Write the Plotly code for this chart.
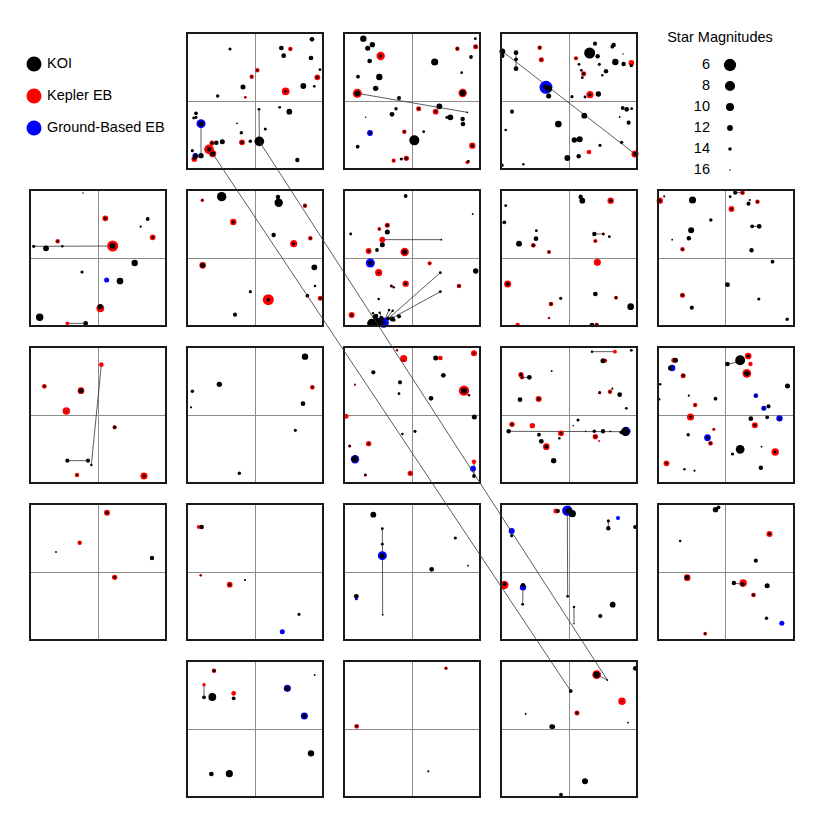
import plotly.graph_objects as go

# Each star: (x, y, magnitude); panel scale runs 0..408 with the centre cross at 204
koi_0_1 = [(375,19,13),(283,45,13),(129,48,14.5),(290,68,13),(372,75,13),(399,110,14.8),(168,162,12.7),(349,159,12),(382,160,14.8),(92,189,14.2),(278,223,14.8),(307,236,12),(216,229,14.8),(150,271,15.7),(235,288,14.5),(163,299,14.2),(190,325,14.2),(217,325,8.4),(27,241,13.9),(27,253,14.5),(20,255,14.8),(42,272,12.7),(106,326,12.7),(88,329,13.3),(75,330,14.5),(66,349,13.3),(77,362,12.7),(16,353,14.5),(42,368,12.4),(25,369,13.3),(22,376,14.2),(165,328,14.5),(331,381,13.3),(310,48,15.4),(211,112,15.4),(194,131,15.4),(175,193,16),(296,175,14.8),(391,133,14.5)]
keb_0_1 = [(310,48,13.3),(211,112,13.3),(194,131,13.3),(175,193,14.8),(296,175,10.2),(391,133,12),(165,328,12),(75,330,12.7),(66,349,8.4),(77,362,10.8),(22,378,12)]
gb_0_1 = [(42,272,9),(25,369,12)]
link_0_1 = [(42,272,42,368),(216,229,217,325)]

koi_0_2 = [(58,17,11.5),(85,35,12.4),(71,46,12.7),(77,84,13),(110,69,14.2),(272,87,10.8),(394,17,14.8),(340,47,14.8),(395,41,14.8),(381,72,13.9),(353,119,14.8),(42,131,13.9),(106,132,11.5),(95,166,12.4),(40,181,12),(356,180,11.8),(165,195,13.6),(156,227,14.2),(144,244,13),(65,253,16),(286,220,12),(370,238,15.7),(224,227,14.8),(275,236,14.8),(319,253,12),(309,253,14.5),(356,258,13.3),(357,273,13),(78,300,14.8),(181,296,15.1),(239,296,14.8),(211,322,8.1),(41,341,13.9),(385,338,14.5),(172,378,14.5),(187,376,14.5),(149,383,15.7),(373,385,14.8)]
keb_0_2 = [(110,69,9.6),(340,47,13.3),(395,41,12.7),(40,181,9),(356,180,9.6),(224,227,12.7),(275,236,12),(181,296,13.3),(385,338,11.5),(187,376,12.4),(149,383,13.6),(370,388,13.9)]
gb_0_2 = [(78,300,12)]
link_0_2 = [(40,181,370,238)]

koi_0_3 = [(4,55,12),(4,68,13.3),(45,59,13),(45,79,13.9),(45,107,13),(116,44,14.8),(121,80,15.1),(132,161,13.3),(143,167,11.5),(143,189,12.7),(282,32,13.6),(266,60,7.2),(290,70,13.3),(338,36,13.3),(334,41,13.9),(225,76,15.4),(366,63,16),(234,94,14.8),(295,94,14.5),(343,87,11.5),(368,93,13.3),(391,98,14.5),(241,112,14.8),(248,122,14.5),(244,134,14.8),(315,115,13.3),(304,127,15.1),(267,185,14.5),(292,183,12.4),(252,192,14.8),(213,191,14.5),(33,236,13.6),(250,248,12),(365,225,13.9),(377,229,13),(392,227,14.8),(356,252,15.7),(383,269,13.6),(172,273,11.2),(14,291,15.1),(220,321,12.4),(236,319,11.8),(297,337,14.5),(362,328,14.5),(402,363,13.9),(199,375,12),(233,370,13.3),(3,397,14.2),(67,394,15.1)]
keb_0_3 = [(116,44,13.3),(121,80,12.7),(225,76,13.6),(391,90,12),(248,122,12.7),(267,185,10.8),(402,363,10.8),(264,357,13),(362,328,14.8)]
gb_0_3 = [(135,163,5.4)]
link_0_3 = [(4,55,402,363),(45,59,45,107),(391,90,391,98)]

koi_1_0 = [(159,9,16),(226,85,14.8),(353,87,13.9),(332,110,15.4),(368,142,14.8),(83,154,15.1),(11,169,14.5),(48,175,12),(97,169,15.1),(248,168,12),(314,219,11.5),(156,246,14.5),(270,273,11.2),(211,350,12.4),(29,382,10.5),(167,400,13)]
keb_1_0 = [(226,85,12),(368,142,12),(83,154,13.3),(248,168,7.2),(211,355,10.2),(112,400,13.9)]
gb_1_0 = [(230,270,12.7)]
link_1_0 = [(11,169,248,168),(112,400,167,400)]

koi_1_1 = [(46,31,15.4),(104,20,8.7),(273,21,13.3),(275,38,9.6),(354,47,14.8),(139,96,14.5),(260,135,13.3),(320,161,14.5),(370,145,15.1),(47,226,12.7),(382,232,12),(384,288,15.1),(190,305,14.5),(244,329,14.2),(361,317,13.9),(400,325,15.1),(144,374,13.6)]
keb_1_1 = [(46,31,14.2),(354,47,13.3),(139,96,11.5),(320,161,10.8),(370,145,13.3),(47,226,11.2),(244,329,7.2),(400,325,12.7)]
gb_1_1 = []
link_1_1 = []

koi_1_2 = [(185,18,13.9),(386,72,15.7),(20,132,14.8),(130,106,14.5),(106,117,15.7),(130,126,12.7),(115,164,12.7),(74,183,15.1),(99,180,13.9),(182,186,12.7),(79,219,13.3),(104,248,15.1),(257,220,15.7),(395,243,12.4),(289,248,14.8),(185,281,14.5),(142,288,15.1),(149,292,15.1),(345,288,15.1),(289,305,14.8),(104,327,15.1),(292,149,15.7),(23,375,14.5),(87,370,15.1),(90,380,14.5),(82,395,12),(94,390,12.7),(107,368,15.1),(102,390,13.3),(135,360,15.1),(146,362,15.1),(145,387,12.7),(165,379,13.6),(132,385,13.9),(150,390,14.5),(88,400,12.7),(100,402,12.7),(110,395,13),(119,398,14.5),(80,400,11),(92,398,11),(104,398,11),(96,378,13),(112,385,13)]
keb_1_2 = [(115,149,12),(130,106,12.7),(106,117,13.9),(74,183,12),(182,186,9.6),(104,248,10.8),(257,220,13.6),(185,281,11.5),(345,288,13),(23,375,11.8),(142,288,14.8)]
gb_1_2 = [(79,219,9),(119,398,7.8)]
link_1_2 = [(115,149,292,149),(119,398,289,248),(119,398,289,305),(119,398,135,360),(119,398,146,362),(119,398,107,368)]

koi_1_3 = [(14,47,14.8),(10,97,13.9),(106,122,14.8),(105,146,13),(54,161,12),(97,166,14.5),(144,186,15.1),(239,21,13.3),(244,32,12),(329,32,14.2),(280,132,13.3),(307,132,15.1),(325,140,14.8),(283,153,15.4),(289,217,16),(20,282,13.9),(179,325,14.5),(150,342,14.8),(144,384,16),(283,312,13),(345,323,14.8),(389,350,11.2),(273,405,13),(287,405,14.8)]
keb_1_3 = [(97,166,13),(144,186,13.6),(329,32,11.5),(283,153,13.6),(289,217,10.8),(20,282,10.8),(150,342,13),(144,384,15.1),(345,323,13.9),(50,405,13.3),(287,405,13.3),(239,18,14.8),(307,132,14.8)]
gb_1_3 = []
link_1_3 = [(280,132,307,132)]

koi_1_4 = [(7,32,14.5),(20,19,15.4),(105,30,10.8),(233,8,13.6),(255,8,15.1),(218,20,14.8),(277,30,15.4),(273,41,13.6),(300,35,15.1),(222,57,15.1),(160,90,14.2),(284,109,13.9),(305,109,13),(101,121,11.8),(94,145,13.3),(44,149,15.7),(75,178,14.8),(282,181,13.3),(345,215,13.9),(210,284,13),(75,316,14.8),(304,327,14.5),(103,353,13.6),(389,388,14.2)]
keb_1_4 = [(7,32,11.5),(255,8,13),(300,35,13.3),(222,57,12),(75,178,13.3),(75,316,12.7)]
gb_1_4 = []
link_1_4 = [(233,8,255,8),(284,109,305,109)]

koi_2_0 = [(43,118,15.1),(153,131,12.7),(109,195,16),(254,241,14.2),(112,341,13.6),(174,341,13.6),(184,354,15.1),(141,384,15.4),(342,387,14.5)]
keb_2_0 = [(214,53,13),(43,118,13),(153,131,11.2),(109,192,10.5),(254,241,13.6),(141,384,13.3),(342,387,10.8)]
gb_2_0 = []
link_2_0 = [(214,53,184,354),(112,341,174,341)]

koi_2_1 = [(354,29,11.5),(97,112,12.4),(16,133,14.2),(12,181,15.4),(376,121,15.1),(348,170,13),(325,250,14.5),(157,379,14.2)]
keb_2_1 = [(376,121,13)]
gb_2_1 = []
link_2_1 = []

koi_2_2 = [(159,10,16),(275,33,12.7),(390,19,15.4),(88,76,13.6),(298,85,13),(168,106,13.6),(33,113,16),(165,140,14.8),(360,131,11.8),(375,145,15.1),(261,154,13),(391,210,12.7),(175,261,15.1),(213,253,14.5),(17,297,15.1),(74,290,15.1),(34,332,13.3),(32,337,12),(64,384,15.1),(199,379,15.4),(390,387,13.9),(179,40,16)]
keb_2_2 = [(159,10,15.1),(179,35,10.8),(289,33,13),(390,19,11.8),(33,113,15.4),(360,131,7.8),(6,208,12.7),(261,154,13.9),(17,297,14.5),(74,290,12.4),(64,384,14.5),(199,379,12.4),(390,344,13.3)]
gb_2_2 = [(33,337,9.6),(387,365,12)]
link_2_2 = [(390,344,390,387)]

koi_2_3 = [(273,14,15.1),(391,10,14.8),(306,41,12.7),(152,72,15.7),(60,83,14.5),(63,91,15.1),(85,91,13),(57,158,13),(113,156,14.2),(296,137,14.8),(327,134,15.1),(334,125,15.4),(356,143,13),(376,184,14.8),(231,219,14.5),(217,236,16),(33,232,14.8),(23,253,13.3),(114,263,13.9),(180,259,15.1),(175,274,15.1),(121,283,13),(136,299,13.9),(158,341,12.4),(280,253,14.2),(306,253,13.3),(328,253,15.7),(254,253,16),(283,269,14.8),(373,254,9.6),(361,256,13.9)]
keb_2_3 = [(342,14,13.9),(313,41,13.9),(60,83,12.4),(63,91,13.3),(113,156,11.8),(296,137,14.5),(327,134,13.3),(33,232,12.4),(94,236,12.4),(180,259,12),(136,299,11.2),(283,269,12.4),(294,282,15.4)]
gb_2_3 = [(375,253,9)]
link_2_3 = [(273,14,342,14),(63,91,85,91),(23,253,373,254)]

koi_2_4 = [(54,40,12.7),(39,63,12.7),(77,86,14.5),(8,112,15.1),(94,146,15.4),(5,157,15.1),(174,155,13.9),(113,174,15.4),(99,210,14.8),(169,247,16),(92,263,14.2),(150,272,14.5),(159,289,14.8),(27,349,15.1),(81,367,15.1),(111,371,15.4),(248,40,8.2),(210,51,13),(272,27,14.5),(268,79,12.4),(390,117,12.7),(295,146,15.4),(319,184,15.4),(333,178,13.6),(280,215,13),(329,211,13.9),(366,214,14.8),(292,235,14.8),(248,307,9.3),(225,321,14.5),(312,299,15.7),(353,315,14.8),(310,362,13.3)]
keb_2_4 = [(49,40,12.7),(77,86,12.7),(113,174,13.3),(99,210,10.8),(169,247,14.5),(159,289,13),(27,349,12),(272,27,11.2),(279,51,13.3),(268,79,9.3),(292,235,11.8),(353,315,10.5)]
gb_2_4 = [(44,63,11.5),(295,146,13),(319,184,12.7),(366,214,11.5),(150,272,11.2)]
link_2_4 = [(210,51,248,44)]

koi_3_0 = [(231,26,14.5),(149,116,16),(78,144,15.7),(366,162,13.3),(254,220,14.8)]
keb_3_0 = [(231,26,11.8),(149,116,13.3),(254,220,12.4)]
gb_3_0 = []
link_3_0 = []

koi_3_1 = [(44,69,13.3),(128,242,14.5),(174,228,15.4),(336,331,14.5),(41,214,16)]
keb_3_1 = [(35,69,13.9),(41,214,14.8),(128,242,12)]
gb_3_1 = [(286,383,12.7)]
link_3_1 = []

koi_3_2 = [(88,32,12),(115,74,14.8),(115,120,14.5),(115,155,12.7),(116,332,15.7),(334,102,14.5),(263,196,13),(372,185,15.7),(37,277,13)]
keb_3_2 = []
gb_3_2 = [(115,155,9),(37,284,14.5)]
link_3_2 = [(115,74,116,332)]

koi_3_3 = [(171,21,13.9),(200,22,12.7),(206,17,13.3),(214,29,10.8),(322,51,14.8),(322,73,13.3),(402,69,13.9),(32,95,14.5),(11,240,13.9),(66,244,13),(65,301,14.8),(200,277,14.8),(219,309,15.1),(219,359,16),(335,302,12),(298,336,13.6)]
keb_3_3 = [(165,21,12.7),(10,243,9.6),(322,51,14.5)]
gb_3_3 = [(199,20,7.8),(351,42,13.6),(32,81,11.8),(66,250,11.5)]
link_3_3 = [(322,51,322,73),(66,250,65,301),(199,20,200,277),(219,309,219,359)]

koi_3_4 = [(183,10,13.9),(174,17,12.4),(68,111,15.1),(336,90,14.8),(295,170,13.6),(89,221,13),(229,237,13.3),(255,241,13.3),(329,245,12.7),(288,273,14.8),(327,343,14.2),(143,389,15.1)]
keb_3_4 = [(336,90,11.8),(89,221,11.2),(257,237,10.5),(288,273,13),(143,389,13.9)]
gb_3_4 = [(373,358,12.7)]
link_3_4 = [(229,237,255,241)]

koi_4_1 = [(81,29,14.5),(383,42,15.7),(51,109,13.9),(76,108,10.2),(140,112,13.9),(301,82,12.4),(352,165,13),(372,277,11.5),(73,339,13),(127,338,10.8)]
keb_4_1 = [(81,29,13.3),(51,71,14.2),(140,97,13)]
gb_4_1 = [(301,82,10.8),(352,165,10.8)]
link_4_1 = [(51,71,51,109)]

koi_4_2 = [(306,22,15.4),(38,196,15.1),(253,331,15.4)]
keb_4_2 = [(306,22,14.2),(38,196,13)]
gb_4_2 = []
link_4_2 = []

koi_4_3 = [(403,22,13),(209,90,13.9),(319,57,15.7),(287,41,11.5),(228,156,14.8),(363,121,16),(74,159,15.7),(381,185,15.7),(152,197,13),(156,197,13.3),(252,361,11.8),(180,401,13.9)]
keb_4_3 = [(287,41,9.3),(363,121,10.5),(228,156,12.7)]
gb_4_3 = []
link_4_3 = [(287,41,319,57)]

# lines that join stars across panels, in whole-figure units
cross_x0 = [212.7, 259.3]
cross_y0 = [153.7, 141.3]
cross_x1 = [570.7, 607.3]
cross_y1 = [691.0, 680.0]

class_names = ["KOI", "Kepler EB", "Ground-Based EB"]
class_colors = ["#000000", "#ff0000", "#0000ff"]
mag_labels = [6, 8, 10, 12, 14, 16]
legend_title = "Star Magnitudes"

panels = {
    (0,1):(koi_0_1,keb_0_1,gb_0_1,link_0_1),(0,2):(koi_0_2,keb_0_2,gb_0_2,link_0_2),(0,3):(koi_0_3,keb_0_3,gb_0_3,link_0_3),
    (1,0):(koi_1_0,keb_1_0,gb_1_0,link_1_0),(1,1):(koi_1_1,keb_1_1,gb_1_1,link_1_1),(1,2):(koi_1_2,keb_1_2,gb_1_2,link_1_2),(1,3):(koi_1_3,keb_1_3,gb_1_3,link_1_3),(1,4):(koi_1_4,keb_1_4,gb_1_4,link_1_4),
    (2,0):(koi_2_0,keb_2_0,gb_2_0,link_2_0),(2,1):(koi_2_1,keb_2_1,gb_2_1,link_2_1),(2,2):(koi_2_2,keb_2_2,gb_2_2,link_2_2),(2,3):(koi_2_3,keb_2_3,gb_2_3,link_2_3),(2,4):(koi_2_4,keb_2_4,gb_2_4,link_2_4),
    (3,0):(koi_3_0,keb_3_0,gb_3_0,link_3_0),(3,1):(koi_3_1,keb_3_1,gb_3_1,link_3_1),(3,2):(koi_3_2,keb_3_2,gb_3_2,link_3_2),(3,3):(koi_3_3,keb_3_3,gb_3_3,link_3_3),(3,4):(koi_3_4,keb_3_4,gb_3_4,link_3_4),
    (4,1):(koi_4_1,keb_4_1,gb_4_1,link_4_1),(4,2):(koi_4_2,keb_4_2,gb_4_2,link_4_2),(4,3):(koi_4_3,keb_4_3,gb_4_3,link_4_3),
}

W = 830
col_left = [30, 187, 344, 501, 657.5]
row_top = [33, 190, 347, 504, 661]
SIDE = 136
INSET = 1
FONT = "Liberation Sans"


def dia(mag):
    return max(1.2, 12.3 - 1.08 * (mag - 6))


fig = go.Figure()
layout = dict(
    width=W, height=W, margin=dict(l=0, r=0, t=0, b=0), showlegend=False,
    paper_bgcolor="white", plot_bgcolor="rgba(0,0,0,0)", hovermode=False,
)

n = 1
for (r, c), (koi, keb, gb, links) in panels.items():
    xn, yn = ("x%d" % n, "y%d" % n)
    ax = dict(tickvals=[204], ticks="", showticklabels=False, showgrid=True,
              gridcolor="#8c8c8c", gridwidth=1, zeroline=False, showline=True, mirror=True,
              linecolor="#1a1a1a", linewidth=2, fixedrange=True)
    L, T = col_left[c] + INSET, row_top[r] + INSET
    S = SIDE - 2 * INSET
    layout["xaxis%d" % n] = dict(ax, anchor=yn, range=[3, 405], domain=[L / W, (L + S) / W])
    layout["yaxis%d" % n] = dict(ax, anchor=xn, range=[405, 3], domain=[1 - (T + S) / W, 1 - T / W])
    lx, ly = [], []
    for a, b, e, d in links:
        lx += [a, e, None]
        ly += [b, d, None]
    if lx:
        fig.add_trace(go.Scatter(x=lx, y=ly, xaxis=xn, yaxis=yn, mode="lines",
                                 line=dict(color="#333333", width=0.8)))
    for stars, col in ((gb, class_colors[2]), (keb, class_colors[1]), (koi, class_colors[0])):
        if stars:
            fig.add_trace(go.Scatter(x=[s[0] for s in stars], y=[s[1] for s in stars], xaxis=xn, yaxis=yn,
                                     mode="markers", cliponaxis=False,
                                     marker=dict(color=col, opacity=1, size=[dia(s[2]) for s in stars],
                                                 line=dict(width=0))))
    n += 1

# whole-figure layer for the long joins and the two keys
xn, yn = "x%d" % n, "y%d" % n
hidden = dict(visible=False, fixedrange=True, domain=[0, 1])
layout["xaxis%d" % n] = dict(hidden, range=[0, W], anchor=yn)
layout["yaxis%d" % n] = dict(hidden, range=[W, 0], anchor=xn)
lx, ly = [], []
for a, b, e, d in zip(cross_x0, cross_y0, cross_x1, cross_y1):
    lx += [a, e, None]
    ly += [b, d, None]
fig.add_trace(go.Scatter(x=lx, y=ly, xaxis=xn, yaxis=yn, mode="lines", line=dict(color="#333333", width=0.8)))

class_y = [64, 96, 128]
fig.add_trace(go.Scatter(x=[34] * 3, y=class_y, xaxis=xn, yaxis=yn, mode="markers",
                         marker=dict(color=class_colors, opacity=1, size=15, line=dict(width=0))))
fig.add_trace(go.Scatter(x=[47] * 3, y=class_y, xaxis=xn, yaxis=yn, mode="text",
                         text=class_names, textposition="middle right",
                         textfont=dict(family=FONT, size=14.5, color="#000000")))
mag_y = [65, 86, 107, 128, 149, 170]
fig.add_trace(go.Scatter(x=[730] * 6, y=mag_y, xaxis=xn, yaxis=yn, mode="markers",
                         marker=dict(color="#000000", opacity=1, size=[dia(m) for m in mag_labels], line=dict(width=0))))
fig.add_trace(go.Scatter(x=[710] * 6, y=mag_y, xaxis=xn, yaxis=yn, mode="text",
                         text=[str(m) for m in mag_labels], textposition="middle left",
                         textfont=dict(family=FONT, size=14.5, color="#000000")))
fig.add_trace(go.Scatter(x=[720], y=[38], xaxis=xn, yaxis=yn, mode="text", text=[legend_title],
                         textposition="middle center", textfont=dict(family=FONT, size=14.5, color="#000000")))

fig.update_layout(**layout)
fig.write_html("out.html", config={"displayModeBar": False}, post_script="document.body.style.margin='0';")
